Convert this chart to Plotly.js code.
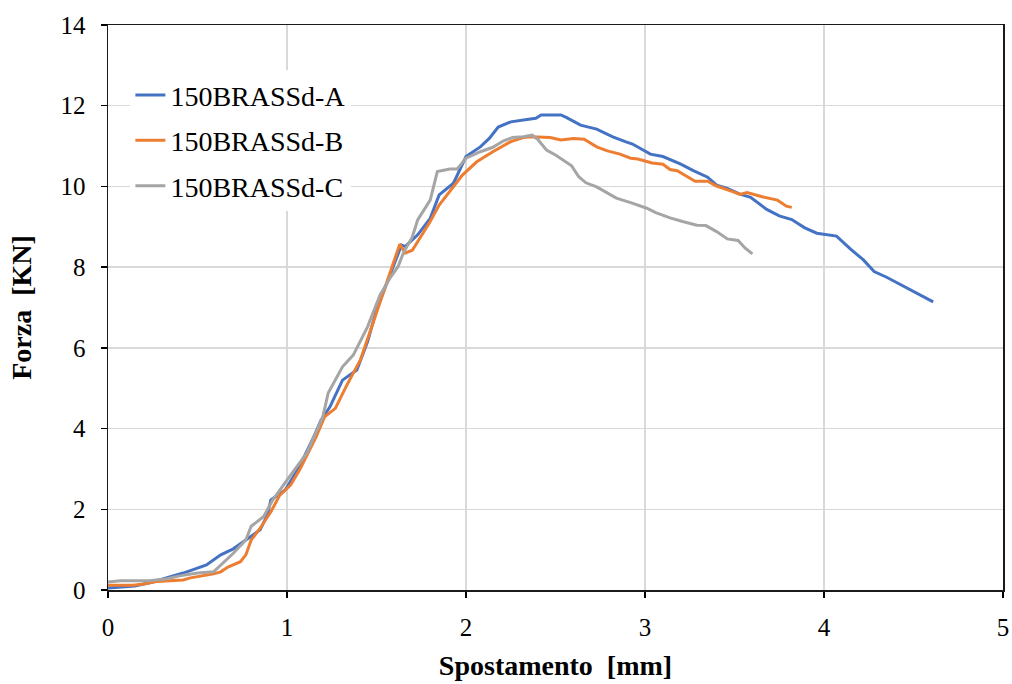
<!DOCTYPE html>
<html>
<head>
<meta charset="utf-8">
<script src="https://cdn.plot.ly/plotly-3.0.1.min.js"></script>
<style>html,body{margin:0;padding:0;background:#fff;}#chart{width:1012px;height:684px;}</style>
</head>
<body>
<div id="chart"></div>
<script>
const seriesNames = ["150BRASSd-A", "150BRASSd-B", "150BRASSd-C"];
const seriesColors = ["#4472C4", "#ED7D31", "#A5A5A5"];

const xA = [0.00,0.15,0.25,0.33,0.42,0.48,0.55,0.63,0.70,0.77,0.85,0.89,0.91,0.99,1.07,1.15,1.19,1.24,1.31,1.39,1.45,1.50,1.58,1.64,1.66,1.73,1.80,1.85,1.93,2.00,2.08,2.13,2.18,2.25,2.34,2.39,2.42,2.53,2.56,2.64,2.73,2.82,2.89,2.93,3.03,3.10,3.20,3.27,3.35,3.40,3.46,3.53,3.59,3.68,3.75,3.82,3.89,3.96,4.07,4.15,4.22,4.28,4.35,4.41,4.46,4.52,4.61];
const yA = [0.05,0.10,0.20,0.30,0.42,0.51,0.62,0.87,1.02,1.24,1.49,1.86,2.23,2.48,3.06,3.80,4.21,4.54,5.20,5.45,6.15,6.94,7.85,8.55,8.51,8.80,9.21,9.79,10.08,10.74,10.98,11.19,11.47,11.60,11.66,11.69,11.77,11.77,11.71,11.52,11.42,11.23,11.11,11.05,10.80,10.74,10.55,10.39,10.23,10.03,9.95,9.81,9.73,9.43,9.27,9.18,8.98,8.84,8.77,8.44,8.18,7.89,7.75,7.61,7.50,7.35,7.14];

const xB = [0.00,0.14,0.20,0.27,0.42,0.46,0.59,0.63,0.67,0.74,0.77,0.80,0.85,0.91,0.96,1.02,1.07,1.16,1.21,1.27,1.33,1.41,1.48,1.56,1.63,1.66,1.70,1.80,1.85,1.98,2.06,2.15,2.25,2.32,2.36,2.47,2.53,2.60,2.66,2.73,2.79,2.86,2.92,2.96,3.04,3.10,3.14,3.18,3.28,3.35,3.40,3.49,3.53,3.57,3.65,3.74,3.79,3.82];
const yB = [0.12,0.12,0.15,0.21,0.25,0.30,0.40,0.45,0.57,0.70,0.87,1.24,1.53,1.94,2.35,2.60,2.97,3.77,4.29,4.50,5.04,5.70,6.61,7.68,8.57,8.35,8.42,9.13,9.54,10.28,10.61,10.86,11.11,11.21,11.23,11.21,11.15,11.19,11.17,10.98,10.88,10.80,10.70,10.68,10.58,10.55,10.42,10.39,10.13,10.13,10.01,9.87,9.80,9.85,9.75,9.66,9.51,9.48];

const xC = [0.00,0.07,0.23,0.33,0.40,0.50,0.59,0.64,0.70,0.77,0.80,0.87,0.92,1.00,1.11,1.20,1.23,1.31,1.37,1.45,1.52,1.58,1.62,1.65,1.70,1.73,1.80,1.84,1.91,1.95,2.00,2.08,2.15,2.21,2.26,2.32,2.37,2.40,2.45,2.50,2.54,2.59,2.63,2.67,2.73,2.79,2.84,2.92,3.01,3.06,3.14,3.21,3.29,3.34,3.40,3.46,3.52,3.56,3.60];
const yC = [0.20,0.23,0.23,0.28,0.35,0.42,0.45,0.66,0.91,1.24,1.58,1.82,2.23,2.72,3.39,4.29,4.88,5.53,5.82,6.52,7.31,7.76,8.01,8.35,8.75,9.17,9.66,10.37,10.43,10.43,10.70,10.86,10.97,11.13,11.21,11.23,11.27,11.17,10.90,10.78,10.65,10.51,10.24,10.09,9.99,9.83,9.71,9.60,9.46,9.35,9.22,9.13,9.04,9.03,8.88,8.70,8.66,8.47,8.33];

const xTicks = [0, 1, 2, 3, 4, 5];
const yTicks = [0, 2, 4, 6, 8, 10, 12, 14];
const xTitle = "Spostamento  [mm]";
const yTitle = "Forza  [KN]";

const xs = [xA, xB, xC];
const ys = [yA, yB, yC];
const traces = seriesNames.map((n, i) => ({
  x: xs[i], y: ys[i], name: n, type: "scatter", mode: "lines",
  legendgroup: "g" + i,
  line: {color: seriesColors[i], width: 3}
}));

const font = "Liberation Serif, Times New Roman, serif";
const layout = {
  width: 1012, height: 684,
  margin: {l: 108, r: 9, t: 25, b: 94},
  paper_bgcolor: "#fff", plot_bgcolor: "#fff",
  font: {family: font, color: "#000", size: 25},
  showlegend: true,
  legend: {
    x: 0.025, y: 0.92, xanchor: "left", yanchor: "top",
    bgcolor: "#fff", font: {family: font, size: 28, color: "#000"},
    tracegroupgap: 6, itemwidth: 30
  },
  xaxis: {
    range: [0, 5], tickvals: xTicks, ticktext: xTicks.map(String),
    showgrid: true, gridcolor: "#d9d9d9", gridwidth: 1.3,
    showline: true, linecolor: "#1a1a1a", linewidth: 1.5, mirror: true,
    ticks: "outside", ticklen: 6, tickcolor: "#000", tickwidth: 1.3,
    ticklabelstandoff: 8,
    zeroline: false,
    tickfont: {family: font, size: 25, color: "#000"},
    title: {text: "<b>" + xTitle + "</b>", font: {family: font, size: 28, color: "#000"}, standoff: 16}
  },
  yaxis: {
    range: [0, 14], tickvals: yTicks, ticktext: yTicks.map(String),
    showgrid: true, gridcolor: "#d9d9d9", gridwidth: 1.3,
    showline: true, linecolor: "#1a1a1a", linewidth: 1.5, mirror: true,
    ticks: "outside", ticklen: 6, tickcolor: "#000", tickwidth: 1.3,
    ticklabelstandoff: 10,
    zeroline: false,
    tickfont: {family: font, size: 25, color: "#000"},
    title: {text: "<b>" + yTitle + "</b>", font: {family: font, size: 28, color: "#000"}, standoff: 20}
  }
};

Plotly.newPlot("chart", traces, layout, {displayModeBar: false, staticPlot: true});
</script>
</body>
</html>
